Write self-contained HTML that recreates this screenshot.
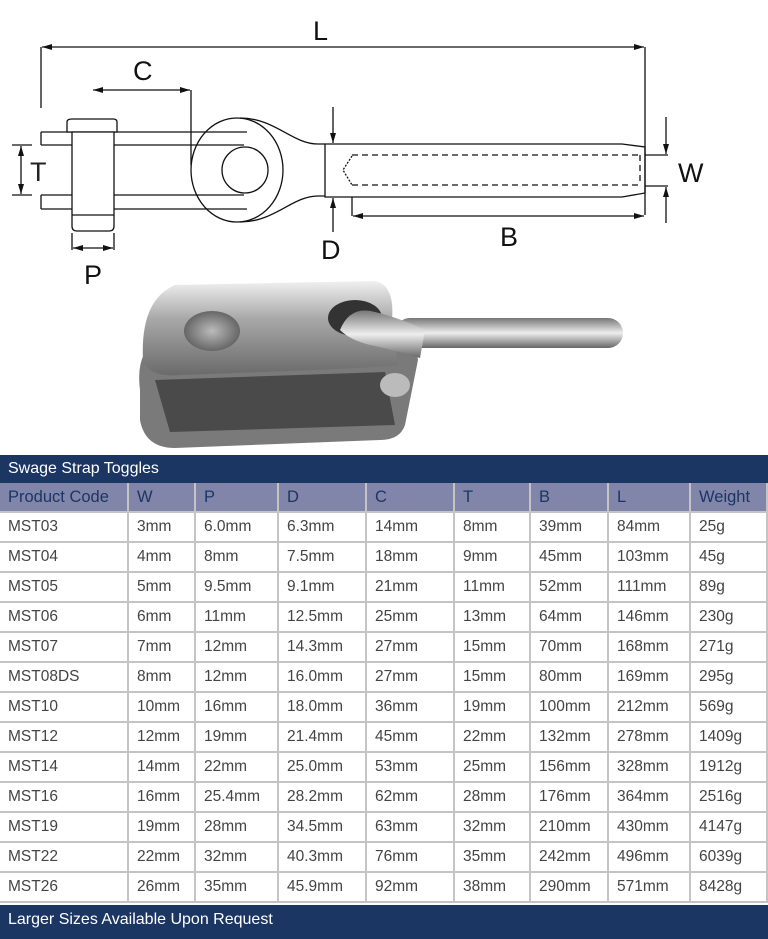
<!DOCTYPE html>
<html><head><meta charset="utf-8"><style>
body{margin:0;width:768px;height:939px;background:#fff;position:relative;overflow:hidden;font-family:"Liberation Sans",sans-serif}
.bar{position:absolute;left:0;width:768px;background:#1c3664;color:#fff;font-size:16px;box-sizing:border-box;padding-left:8px}
.c{position:absolute;box-sizing:border-box;padding-left:8px;font-size:15.5px;color:#444;border-right:2px solid #c4c4c4;border-bottom:2px solid #c4c4c4;line-height:28px;height:30px}
.h{background:#8185a9;color:#1c3664;font-size:16.5px}
</style></head><body>
<svg width="768" height="450" style="position:absolute;left:0;top:0" xmlns="http://www.w3.org/2000/svg">
<defs>
<marker id="a" markerWidth="10" markerHeight="6" refX="10" refY="3" orient="auto" markerUnits="userSpaceOnUse"><path d="M0,0 L10,3 L0,6 z" fill="#111"/></marker>
<linearGradient id="g1" x1="0" y1="0" x2="0" y2="1"><stop offset="0" stop-color="#f0f0f0"/><stop offset="0.4" stop-color="#a8a8a8"/><stop offset="1" stop-color="#6a6a6a"/></linearGradient>
<linearGradient id="g2" x1="0" y1="0" x2="0" y2="1"><stop offset="0" stop-color="#777"/><stop offset="0.5" stop-color="#eee"/><stop offset="1" stop-color="#666"/></linearGradient>
<radialGradient id="g3"><stop offset="0" stop-color="#bbb"/><stop offset="1" stop-color="#666"/></radialGradient>
</defs>
<g stroke="#111" stroke-width="1.3" fill="none">
<line x1="41" y1="108" x2="41" y2="47"/><line x1="645" y1="47" x2="645" y2="215"/>
<line x1="300" y1="47" x2="42" y2="47" marker-end="url(#a)"/>
<line x1="300" y1="47" x2="644" y2="47" marker-end="url(#a)"/>
<line x1="191" y1="90" x2="191" y2="165"/>
<line x1="150" y1="90" x2="190" y2="90" marker-end="url(#a)"/>
<line x1="150" y1="90" x2="93" y2="90" marker-end="url(#a)"/>
<path d="M41,132 H247 M41,145 H244 M41,195 H244 M41,209 H247 M41,132 V145 M41,195 V209"/>
<ellipse cx="237" cy="170" rx="46" ry="52"/>
<path d="M240,118 C275,118 292,144 318,144 H325 M240,222 C275,222 292,196 318,196 H325"/>
<circle cx="245" cy="170" r="23"/>
<path d="M70,132 H117 V122 Q117,119 113,119 H72 Q67,119 67,122 V132 Z" fill="#fff"/>
<path d="M72,132 V226 Q72,231 77,231 H109 Q114,231 114,226 V132 Z" fill="#fff"/>
<line x1="72" y1="215" x2="114" y2="215"/>
<path d="M325,144 H622 L645,147 V193 L622,197 H325 Z"/>
<path d="M352,155 H640 M352,185 H640 M640,155 V185" stroke-dasharray="6,4"/>
<path d="M352,156 L343,170 L352,185" stroke-dasharray="2,1.5"/>
<path d="M645,155 H668 M645,186 H668"/>
<line x1="666" y1="117" x2="666" y2="154" marker-end="url(#a)"/>
<line x1="666" y1="223" x2="666" y2="187" marker-end="url(#a)"/>
<line x1="352" y1="197" x2="352" y2="216"/>
<line x1="400" y1="216" x2="353" y2="216" marker-end="url(#a)"/>
<line x1="400" y1="216" x2="644" y2="216" marker-end="url(#a)"/>
<line x1="333" y1="107" x2="333" y2="143" marker-end="url(#a)"/>
<line x1="333" y1="232" x2="333" y2="198" marker-end="url(#a)"/>
<path d="M12,145 H32 M12,195 H32"/>
<line x1="21" y1="170" x2="21" y2="146" marker-end="url(#a)"/>
<line x1="21" y1="170" x2="21" y2="194" marker-end="url(#a)"/>
<path d="M72,233 V250 M114,233 V250"/>
<line x1="93" y1="248" x2="73" y2="248" marker-end="url(#a)"/>
<line x1="93" y1="248" x2="113" y2="248" marker-end="url(#a)"/>
</g>
<g font-family="Liberation Sans,sans-serif" font-size="27" fill="#111">
<text x="313" y="40">L</text><text x="133" y="80">C</text><text x="30" y="181" fill="#222">T</text>
<text x="678" y="182">W</text><text x="500" y="246">B</text><text x="321" y="259">D</text><text x="84" y="284">P</text>
</g>
<rect x="395" y="318" width="228" height="30" rx="15" fill="url(#g2)"/>
<path d="M140,390 Q135,350 160,340 L390,330 Q415,335 418,360 L405,425 Q400,440 380,440 L175,448 Q145,448 140,420 Z" fill="#7a7a7a"/>
<path d="M155,380 L385,372 L395,425 L170,432 Z" fill="#4a4a4a"/>
<path d="M143,360 Q140,300 175,285 L375,281 Q395,285 392,320 L398,365 Q380,368 180,375 Q150,378 143,360 Z" fill="url(#g1)"/>
<ellipse cx="355" cy="318" rx="27" ry="18" fill="#333"/>
<path d="M340,330 Q350,305 375,312 Q400,318 425,330 L420,358 Q395,350 370,345 Q350,340 340,330 Z" fill="url(#g2)"/>
<ellipse cx="212" cy="331" rx="28" ry="20" fill="url(#g3)"/>
<ellipse cx="395" cy="385" rx="15" ry="12" fill="#bbb"/>
</svg>

<div class="bar" style="top:455px;height:28px;line-height:27px">Swage Strap Toggles</div>
<div class="bar" style="top:905px;height:34px;line-height:30px">Larger Sizes Available Upon Request</div>
<div id="t"></div>
<script>
var cols=[0,129,196,279,367,455,531,609,691,768];
var rows=[["Product Code","W","P","D","C","T","B","L","Weight"],
["MST03","3mm","6.0mm","6.3mm","14mm","8mm","39mm","84mm","25g"],
["MST04","4mm","8mm","7.5mm","18mm","9mm","45mm","103mm","45g"],
["MST05","5mm","9.5mm","9.1mm","21mm","11mm","52mm","111mm","89g"],
["MST06","6mm","11mm","12.5mm","25mm","13mm","64mm","146mm","230g"],
["MST07","7mm","12mm","14.3mm","27mm","15mm","70mm","168mm","271g"],
["MST08DS","8mm","12mm","16.0mm","27mm","15mm","80mm","169mm","295g"],
["MST10","10mm","16mm","18.0mm","36mm","19mm","100mm","212mm","569g"],
["MST12","12mm","19mm","21.4mm","45mm","22mm","132mm","278mm","1409g"],
["MST14","14mm","22mm","25.0mm","53mm","25mm","156mm","328mm","1912g"],
["MST16","16mm","25.4mm","28.2mm","62mm","28mm","176mm","364mm","2516g"],
["MST19","19mm","28mm","34.5mm","63mm","32mm","210mm","430mm","4147g"],
["MST22","22mm","32mm","40.3mm","76mm","35mm","242mm","496mm","6039g"],
["MST26","26mm","35mm","45.9mm","92mm","38mm","290mm","571mm","8428g"]];
var h="";
rows.forEach(function(r,i){r.forEach(function(v,j){
h+='<div class="c'+(i==0?' h':'')+'" style="top:'+(483+30*i)+'px;left:'+cols[j]+'px;width:'+(cols[j+1]-cols[j])+'px">'+v+'</div>';});});
document.getElementById("t").innerHTML=h;
</script>
</body></html>
